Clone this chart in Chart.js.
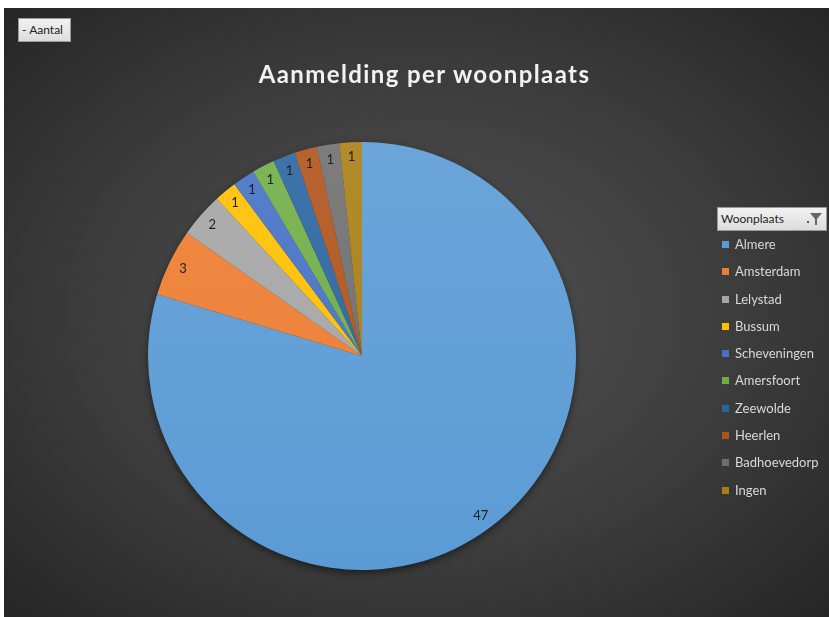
<!DOCTYPE html>
<html>
<head>
<meta charset="utf-8">
<script src="https://cdn.jsdelivr.net/npm/chart.js@4/dist/chart.umd.min.js"></script>
<style>
  body { margin: 0; background: #fff; width: 829px; height: 617px; overflow: hidden; font-family: Lato, "Open Sans", sans-serif; }
  .panel {
    position: absolute; left: 4px; top: 8px; width: 825px; height: 609px;
    background: radial-gradient(ellipse 70% 70% at 50% 50%, #535353 0%, #3d3d3d 55%, #262626 100%);
  }
  #chart { position: absolute; left: 0; top: 0; }
  .title {
    position: absolute; left: 8px; width: 825px; top: 51px; text-align: center;
    color: #f2f2f2; font-weight: bold; font-size: 24px; letter-spacing: 1.4px;
  }
  .fieldBtn {
    position: absolute; background: linear-gradient(#f2f2f2, #dcdcdc); border: 1px solid #9a9a9a;
    color: #222; font-size: 12px; box-sizing: border-box;
  }
  .aantal { left: 14px; top: 10px; width: 53px; height: 24px; line-height: 22px; padding-left: 3px; }
  .woon { left: 713px; top: 199px; width: 110px; height: 24px; line-height: 22px; padding-left: 3px; }
  .woon svg { position: absolute; right: 4px; top: 4px; }
  .legend { position: absolute; left: 718px; top: 226px; }
  .legend div { height: 27.3px; line-height: 20px; color: #d9d9d9; font-size: 13px; white-space: nowrap; }
  .legend span { display: inline-block; width: 7px; height: 7px; margin-right: 6px; vertical-align: 1px; }
</style>
</head>
<body>
<div class="panel">
  <canvas id="chart" width="825" height="609"></canvas>
  <div class="title">Aanmelding per woonplaats</div>
  <div class="fieldBtn aantal">- Aantal</div>
  <div class="fieldBtn woon">Woonplaats
    <svg width="16" height="14" viewBox="0 0 16 14"><rect x="1" y="9" width="2" height="2" fill="#555"/><polygon points="4,1 16,1 11,7 11,13 9,13 9,7" fill="#666"/></svg>
  </div>
  <div class="legend" id="legend"></div>
</div>
<script>
const places = ['Almere', 'Amsterdam', 'Lelystad', 'Bussum', 'Scheveningen', 'Amersfoort', 'Zeewolde', 'Heerlen', 'Badhoevedorp', 'Ingen'];
const counts = [47, 3, 2, 1, 1, 1, 1, 1, 1, 1];
const colors = ['#5b9bd5', '#ed7d31', '#a5a5a5', '#ffc000', '#4472c4', '#70ad47', '#2a64a0', '#b0531a', '#6e6e6e', '#a87e14'];

// html legend from the same arrays
const legendEl = document.getElementById('legend');
places.forEach((p, i) => {
    const row = document.createElement('div');
    row.innerHTML = `<span style="background:${colors[i]}"></span>${p}`;
    legendEl.appendChild(row);
});

function lighten(hex, amt) {
    const n = parseInt(hex.slice(1), 16);
    let r = (n >> 16) & 255, g = (n >> 8) & 255, b = n & 255;
    r = Math.round(r + (255 - r) * amt);
    g = Math.round(g + (255 - g) * amt);
    b = Math.round(b + (255 - b) * amt);
    return `rgb(${r},${g},${b})`;
}

const pieShadow = {
    id: 'pieShadow',
    beforeDatasetsDraw(chart) {
        const arc = chart.getDatasetMeta(0).data[0];
        if (!arc) return;
        const ctx = chart.ctx;
        ctx.save();
        ctx.shadowColor = 'rgba(0,0,0,0.6)';
        ctx.shadowBlur = 8;
        ctx.shadowOffsetY = 3;
        ctx.fillStyle = '#3a3a3a';
        ctx.beginPath();
        ctx.arc(arc.x, arc.y, arc.outerRadius - 1, 0, Math.PI * 2);
        ctx.fill();
        ctx.restore();
    }
};

const sliceLabels = {
    id: 'sliceLabels',
    afterDatasetsDraw(chart) {
        const ctx = chart.ctx;
        const meta = chart.getDatasetMeta(0);
        ctx.save();
        ctx.font = '13px Lato, "Open Sans", sans-serif';
        ctx.fillStyle = '#1e1e1e';
        ctx.textAlign = 'center';
        ctx.textBaseline = 'middle';
        meta.data.forEach((arc, i) => {
            const p = arc.getProps(['x', 'y', 'startAngle', 'endAngle', 'outerRadius'], true);
            const mid = (p.startAngle + p.endAngle) / 2;
            const r = p.outerRadius - 15;
            ctx.fillText(counts[i], p.x + Math.cos(mid) * r, p.y + Math.sin(mid) * r);
        });
        ctx.restore();
    }
};

new Chart(document.getElementById('chart'), {
    type: 'pie',
    data: {
        labels: places,
        datasets: [{
            data: counts,
            backgroundColor: (c) => {
                const area = c.chart.chartArea;
                const base = colors[c.dataIndex];
                if (!area) return base;
                const g = c.chart.ctx.createLinearGradient(0, area.top, 0, area.bottom);
                g.addColorStop(0, lighten(base, 0.1));
                g.addColorStop(1, base);
                return g;
            },
            borderWidth: 0
        }]
    },
    options: {
        responsive: false,
        animation: false,
        layout: { padding: { top: 132, bottom: 45, left: 144, right: 253 } },
        plugins: {
            legend: { display: false },
            tooltip: { enabled: false }
        }
    },
    plugins: [pieShadow, sliceLabels]
});
</script>
</body>
</html>
